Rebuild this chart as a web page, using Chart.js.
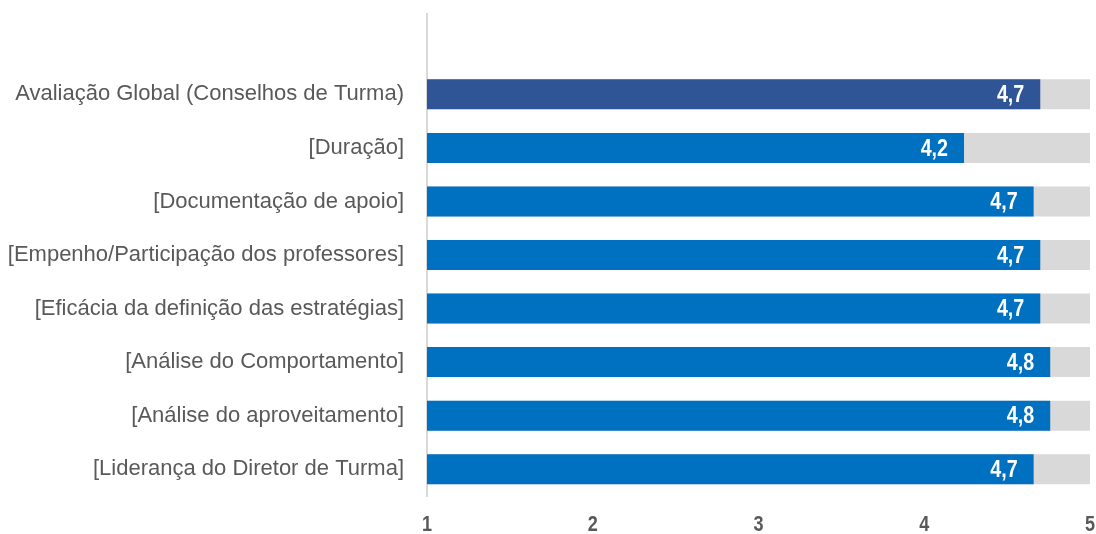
<!DOCTYPE html>
<html>
<head>
<meta charset="utf-8">
<script src="https://cdn.jsdelivr.net/npm/chart.js@4"></script>
<style>
  html, body { margin: 0; padding: 0; background: #fff; }
  #wrap { width: 1096px; height: 534px; position: relative; }
</style>
</head>
<body>
<div id="wrap"><canvas id="satChart"></canvas></div>
<script>
// categories, top to bottom (first slot is left empty like the original)
const categories = [
  '',
  'Avaliação Global (Conselhos de Turma)',
  '[Duração]',
  '[Documentação de apoio]',
  '[Empenho/Participação dos professores]',
  '[Eficácia da definição das estratégias]',
  '[Análise do Comportamento]',
  '[Análise do aproveitamento]',
  '[Liderança do Diretor de Turma]'
];
const scores = [null, 4.70, 4.24, 4.66, 4.70, 4.70, 4.76, 4.76, 4.66];
const maxScores = [null, 5, 5, 5, 5, 5, 5, 5, 5];
const xTicks = [1, 2, 3, 4, 5];

const barColors = scores.map((v, i) => i === 1 ? '#2F5597' : '#0070C0');

// is there a narrow font? if not, squeeze the normal one
const probe = document.createElement('canvas').getContext('2d');
probe.font = '20px monospace';
const wMono = probe.measureText('abcdefghij4,7').width;
probe.font = '20px "Liberation Sans Narrow", monospace';
const hasNarrow = probe.measureText('abcdefghij4,7').width !== wMono;
const narrowFam = hasNarrow ? '"Liberation Sans Narrow"' : '"Liberation Sans", Arial, sans-serif';
const squeeze = hasNarrow ? 1 : 0.82;

function narrowText(ctx, txt, x, y, size, align) {
  ctx.save();
  ctx.font = 'bold ' + size + 'px ' + narrowFam;
  ctx.textAlign = align;
  ctx.textBaseline = 'middle';
  ctx.translate(x, y);
  ctx.scale(squeeze, 1);
  ctx.fillText(txt, 0, 0);
  ctx.restore();
}

// value at the end of each blue bar + x tick numbers
const narrowLabels = {
  id: 'narrowLabels',
  afterDatasetsDraw(chart) {
    const ctx = chart.ctx;
    const meta = chart.getDatasetMeta(0);
    ctx.fillStyle = '#ffffff';
    meta.data.forEach((bar, i) => {
      const v = scores[i];
      if (v == null) return;
      narrowText(ctx, v.toFixed(1).replace('.', ','), bar.x - 16, bar.y + 1, 24, 'right');
    });
  },
  afterDraw(chart) {
    const ctx = chart.ctx;
    const xs = chart.scales.x;
    ctx.fillStyle = '#595959';
    xTicks.forEach(t => {
      narrowText(ctx, String(t), xs.getPixelForValue(t), 525, 22, 'center');
    });
  }
};

const config = {
  type: 'bar',
  data: {
    labels: categories,
    datasets: [
      {
        label: 'Média',
        data: scores,
        base: 1,
        backgroundColor: barColors,
        barPercentage: 0.56,
        categoryPercentage: 1,
        order: 1
      },
      {
        label: 'Máximo',
        data: maxScores,
        base: 1,
        backgroundColor: '#D9D9D9',
        barPercentage: 0.56,
        categoryPercentage: 1,
        order: 2
      }
    ]
  },
  options: {
    indexAxis: 'y',
    responsive: true,
    maintainAspectRatio: false,
    animation: false,
    datasets: { bar: { grouped: false } },
    layout: { padding: { top: 14, right: 6, left: 0, bottom: 0 } },
    plugins: {
      legend: { display: false },
      tooltip: { enabled: false }
    },
    scales: {
      x: {
        min: 1,
        max: 5,
        afterBuildTicks: axis => { axis.ticks = xTicks.map(v => ({ value: v })); },
        grid: { display: false, drawTicks: false },
        border: { display: false },
        ticks: { display: false },
        afterFit: axis => {
          axis.height = 38;
          axis.paddingLeft = 0;
          axis.paddingRight = 0;
        }
      },
      y: {
        grid: { display: false, drawTicks: false },
        border: { display: true, color: '#D9D9D9', width: 2 },
        ticks: {
          color: '#595959',
          font: { family: '"Liberation Sans", Arial, sans-serif', size: 22 },
          padding: 23
        },
        afterFit: axis => {
          axis.width = 427;
          axis.paddingTop = 0;
          axis.paddingBottom = 0;
        }
      }
    }
  },
  plugins: [narrowLabels]
};

new Chart(document.getElementById('satChart'), config);
</script>
</body>
</html>
